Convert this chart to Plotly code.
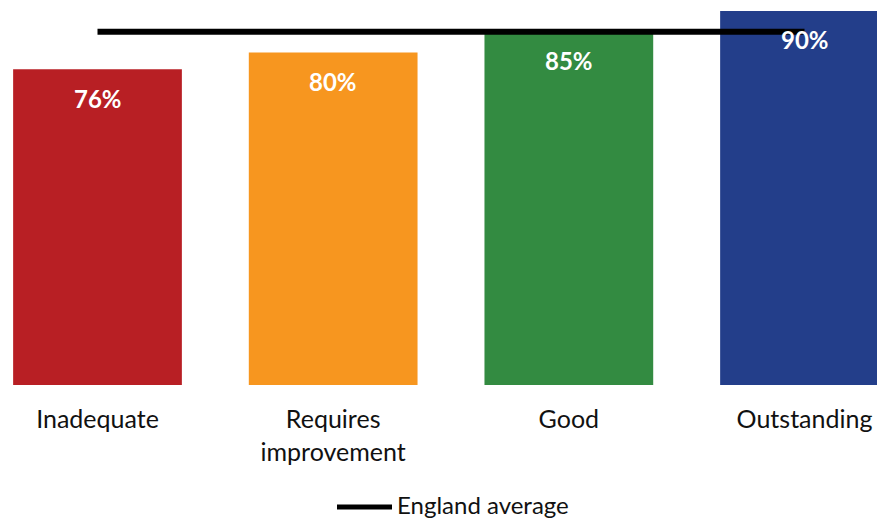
import plotly.graph_objects as go

# Ofsted rating categories and the share achieving the measure
categories = ["Inadequate", "Requires<br>improvement", "Good", "Outstanding"]
values = [76, 80, 85, 90]
bar_colors = ["#B81F24", "#F7961F", "#338B41", "#233E8A"]

# National benchmark drawn across the categories
england_average = 85
avg_name = "England average"

FONT = "Lato"
W, H = 877, 519
PLOT_BOTTOM = 385  # pixel row of the bar baseline


def px_x(px):
    return px / W


def px_y(py):
    return (PLOT_BOTTOM - py) / PLOT_BOTTOM


fig = go.Figure()

fig.add_trace(go.Bar(
    x=categories,
    y=values,
    marker=dict(color=bar_colors, line=dict(width=0)),
    showlegend=False,
    hoverinfo="skip",
))

fig.add_trace(go.Scatter(
    x=categories,
    y=[england_average] * len(categories),
    mode="lines",
    line=dict(color="black", width=6),
    name=avg_name,
    showlegend=False,
    hoverinfo="skip",
))

# Value labels sit inside the top of each bar
for cat, v in zip(categories, values):
    fig.add_annotation(
        x=cat, y=v, text=f"<b>{v}%</b>",
        showarrow=False, yanchor="middle", yshift=-29,
        font=dict(family=FONT, size=24, color="white"),
    )

# Key for the benchmark line, below the category labels
fig.add_shape(
    type="line", xref="paper", yref="paper",
    x0=px_x(337), x1=px_x(392), y0=px_y(507), y1=px_y(507),
    line=dict(color="black", width=5),
)
fig.add_annotation(
    xref="paper", yref="paper", x=px_x(395), y=px_y(504),
    xanchor="left", yanchor="middle", showarrow=False,
    text=avg_name, font=dict(family=FONT, size=24, color="#111111"),
)

fig.update_layout(
    width=W,
    height=H,
    margin=dict(l=0, r=0, t=0, b=H - PLOT_BOTTOM, autoexpand=False),
    paper_bgcolor="white",
    plot_bgcolor="white",
    bargap=0.284,
    showlegend=False,
    font=dict(family=FONT, size=25, color="#111111"),
    xaxis=dict(
        range=[-0.4137, 3.3076],
        showgrid=False, zeroline=False, showline=False,
        automargin=False,
        ticks="outside", ticklen=12, tickcolor="rgba(0,0,0,0)",
        tickfont=dict(family=FONT, size=25, color="#111111"),
    ),
    yaxis=dict(
        range=[0, 92.64],
        visible=False,
        automargin=False,
    ),
)

fig.write_html("out.html")
